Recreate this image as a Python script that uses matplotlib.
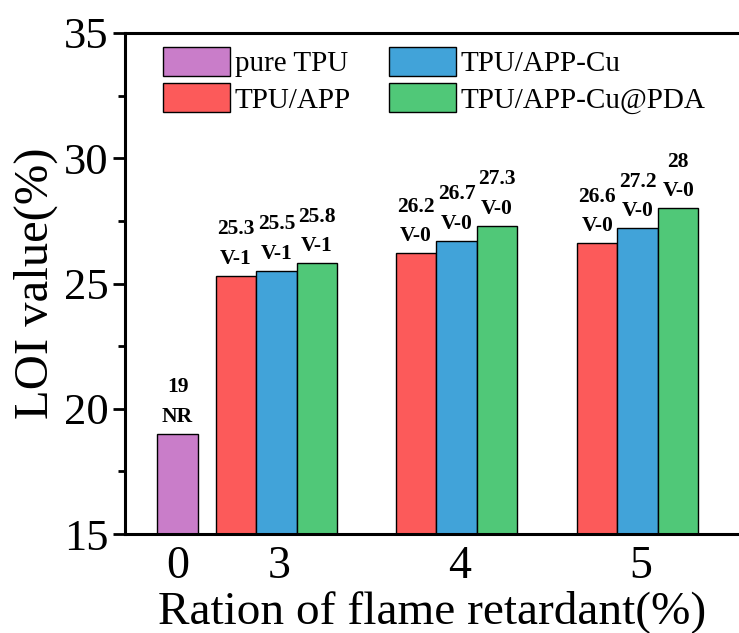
import matplotlib
matplotlib.use("Agg")
import matplotlib.pyplot as plt
from matplotlib.patches import Patch
from matplotlib.ticker import MultipleLocator

plt.rcParams['font.family'] = ['Liberation Serif', 'DejaVu Serif']

# data
ratios = ['0', '3', '4', '5']
pure_tpu = [19]
pure_rating = ['NR']
series_names = ['TPU/APP', 'TPU/APP-Cu', 'TPU/APP-Cu@PDA']
tpu_app = [25.3, 26.2, 26.6]
tpu_app_cu = [25.5, 26.7, 27.2]
tpu_app_cu_pda = [25.8, 27.3, 28]
ratings_app = ['V-1', 'V-0', 'V-0']
ratings_cu = ['V-1', 'V-0', 'V-0']
ratings_pda = ['V-1', 'V-0', 'V-0']

colors = {'pure TPU': '#c97dc9', 'TPU/APP': '#fc5a5a',
          'TPU/APP-Cu': '#41a3d9', 'TPU/APP-Cu@PDA': '#50c878'}

fig = plt.figure(figsize=(7.39, 6.33), dpi=100)
ax = fig.add_axes([125 / 739, 99 / 633, 1 - 125 / 739, 501 / 633])

w = 1.0
group_x = [2.44, 6.89, 11.36]


def label(x, y, val, rating):
    ax.text(x, y + 0.28, f"{val}\n{rating}", ha='center', va='bottom',
            fontsize=15.5, fontweight='bold', linespacing=1.65)


ax.bar([0], pure_tpu, width=w, color=colors['pure TPU'], edgecolor='black', linewidth=1)
label(0, pure_tpu[0], pure_tpu[0], pure_rating[0])

for off, vals, rates, name in [(-w, tpu_app, ratings_app, 'TPU/APP'),
                               (0, tpu_app_cu, ratings_cu, 'TPU/APP-Cu'),
                               (w, tpu_app_cu_pda, ratings_pda, 'TPU/APP-Cu@PDA')]:
    xs = [g + off for g in group_x]
    ax.bar(xs, vals, width=w, color=colors[name], edgecolor='black', linewidth=1)
    for x, v, r in zip(xs, vals, rates):
        label(x, v, v, r)

ax.set_ylim(15, 35)
ax.set_xlim(-1.296, 13.86)
ax.yaxis.set_major_locator(MultipleLocator(5))
ax.yaxis.set_minor_locator(MultipleLocator(2.5))
ax.set_xticks([0] + [g + 0.07 for g in group_x])
ax.set_xticklabels(ratios)
ax.tick_params(axis='y', which='major', direction='out', length=9, width=2, labelsize=32, pad=3)
ax.tick_params(axis='y', which='minor', direction='out', length=5, width=2)
ax.tick_params(axis='x', length=0, labelsize=33, pad=8)

for s in ['left', 'top', 'bottom']:
    ax.spines[s].set_linewidth(2.2)
ax.spines['right'].set_visible(False)

ax.set_ylabel('LOI value(%)', fontsize=35, labelpad=4)
ax.set_xlabel('Ration of flame retardant(%)', fontsize=34, labelpad=2)

handles = [Patch(facecolor=colors[n], edgecolor='black', linewidth=1)
           for n in ['pure TPU', 'TPU/APP', 'TPU/APP-Cu', 'TPU/APP-Cu@PDA']]
ax.legend(handles, ['pure TPU', 'TPU/APP', 'TPU/APP-Cu', 'TPU/APP-Cu@PDA'],
          ncol=2, frameon=False, fontsize=21, loc='upper left',
          bbox_to_anchor=(0.062, 0.972), borderpad=0, borderaxespad=0,
          handlelength=2.3, handleheight=1.15,
          handletextpad=0.15, columnspacing=1.3, labelspacing=0.2)

fig.savefig('out.png', dpi=100)
